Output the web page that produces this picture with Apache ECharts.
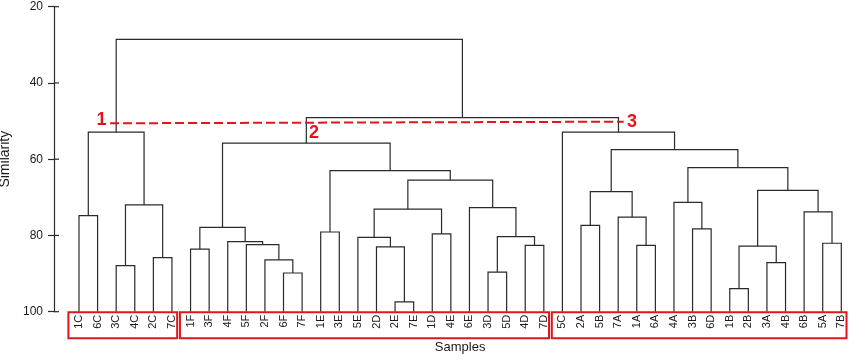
<!DOCTYPE html>
<html><head><meta charset="utf-8">
<script src="https://cdn.jsdelivr.net/npm/echarts@6/dist/echarts.min.js"></script>
<style>html,body{margin:0;padding:0;background:#fff}#c{width:850px;height:356px}</style>
</head><body><div id="c"></div>
<script>
// ---- DATA ----
const leaves = ['1C','6C','3C','4C','2C','7C','1F','3F','4F','5F','2F','6F','7F','1E','3E','5E','2D','2E','7E','1D','4E','6E','3D','5D','4D','7D','5C','2A','5B','7A','1A','6A','4A','3B','6D','1B','2B','3A','4B','6B','5A','7B'];
// children of each merge: leaf index (0..41) or 42+k for the k-th merge
const mergeChildren = [
  [0,1],[2,3],[4,5],[43,44],[42,45],
  [6,7],[11,12],[10,48],[9,49],[8,50],[47,51],
  [13,14],[17,18],[16,54],[15,55],[19,20],[56,57],[22,23],[24,25],[59,60],[21,61],[58,62],[53,63],[52,64],
  [27,28],[30,31],[29,67],[66,68],[33,34],[32,70],[35,36],[37,38],[72,73],[40,41],[39,75],[74,76],[71,77],[69,78],[26,79],
  [65,80],[46,81]
];
const mergeSimilarity = [
  74.8,87.9,85.8,72.0,52.9,
  83.6,89.85,86.4,82.4,81.6,77.9,
  79.1,97.4,83.0,80.5,79.6,73.1,89.6,82.6,80.3,72.7,65.5,63.0,55.8,
  77.35,82.6,75.2,68.5,78.3,71.3,93.95,87.15,82.8,82.05,73.8,68.2,62.2,57.5,52.9,
  49.1,28.55
];
const groupFirstLeaf = [0, 6, 26];
const groupLastLeaf = [5, 25, 41];
const yTicks = {min: 20, max: 100, step: 20};
const yTickValues = [20, 40, 60, 80, 100];
const cutLine = [[1.67, 50.58, 29.3, 50.16]];
const cutLabels = [[1.21, 49.6, '1'], [12.64, 53.26, '2'], [29.74, 50.24, '3']];

// ---- BUILD ----
const nLeaf = leaves.length;
const nodeX = leaves.map((_, i) => i);
const nodeH = leaves.map(() => yTicks.max);
const linkData = mergeChildren.map((c, k) => {
  const l = c[0], r = c[1];
  nodeX[nLeaf + k] = (nodeX[l] + nodeX[r]) / 2;
  nodeH[nLeaf + k] = mergeSimilarity[k];
  return [nodeX[l], nodeX[r], nodeH[l], nodeH[r], mergeSimilarity[k]];
});
const FONT = '"Liberation Sans", Arial, sans-serif';
const RED = '#e3141c';
const INK = '#2a2a2a';
const AXIS_OFFSET = 15.7;

const chart = echarts.init(document.getElementById('c'), null, {renderer: 'canvas'});
chart.setOption({
  animation: false,
  backgroundColor: '#fff',
  textStyle: {fontFamily: FONT},
  grid: {left: 69.7, width: 780.9, top: 6.7, bottom: 44.3, containLabel: false, outerBoundsMode: 'none'},
  xAxis: [
    {type: 'value', min: -0.5, max: nLeaf - 0.5, show: false, position: 'bottom', axisLine: {onZero: false}},
    {type: 'category', data: leaves, position: 'bottom', boundaryGap: true,
     axisLine: {show: false, onZero: false}, axisTick: {show: false},
     axisLabel: {rotate: 90, margin: 3, fontSize: 11, color: '#1a1a1a', interval: 0, fontFamily: FONT, padding: [0, 0, 8, 0]},
     name: 'Samples', nameLocation: 'middle', nameGap: 29,
     nameTextStyle: {fontSize: 13, color: '#1a1a1a', fontFamily: FONT}}
  ],
  yAxis: [
    {type: 'value', inverse: true, min: yTicks.min, max: yTicks.max, interval: yTicks.step, position: 'left', offset: AXIS_OFFSET,
     axisLine: {show: true, onZero: false, lineStyle: {color: INK, width: 1.2}},
     axisTick: {show: true, length: 6, lineStyle: {color: INK, width: 1.2}},
     axisLabel: {margin: 11, fontSize: 12, color: '#1a1a1a', fontFamily: FONT},
     splitLine: {show: false},
     name: 'Similarity', nameLocation: 'middle', nameGap: 37,
     nameTextStyle: {fontSize: 14, color: '#1a1a1a', fontFamily: FONT}}
  ],
  series: [
    {type: 'custom', xAxisIndex: 0, yAxisIndex: 0, data: linkData, clip: false,
     renderItem: function (params, api) {
       const a = api.coord([api.value(0), api.value(2)]);
       const b = api.coord([api.value(0), api.value(4)]);
       const c = api.coord([api.value(1), api.value(4)]);
       const d = api.coord([api.value(1), api.value(3)]);
       return {type: 'polyline', shape: {points: [a, b, c, d]},
               style: {stroke: INK, lineWidth: 1.2, fill: null}};
     }},
    // inner half of the y-axis ticks (ticks cross the axis line)
    {type: 'custom', xAxisIndex: 0, yAxisIndex: 0, clip: false, data: yTickValues,
     renderItem: function (params, api) {
       const p = api.coord([-0.5, api.value(0)]);
       const x = p[0] - AXIS_OFFSET;
       return {type: 'line', shape: {x1: x, y1: p[1], x2: x + 5, y2: p[1]},
               style: {stroke: INK, lineWidth: 1.2}};
     }},
    {type: 'custom', xAxisIndex: 0, yAxisIndex: 0, clip: false,
     data: groupFirstLeaf.map((s, i) => [s, groupLastLeaf[i]]),
     renderItem: function (params, api) {
       const p1 = api.coord([api.value(0), yTicks.max]);
       const p2 = api.coord([api.value(1), yTicks.max]);
       const x0 = p1[0] - 10.6, x1 = p2[0] + 5.2;
       return {type: 'rect', shape: {x: x0, y: p1[1] + 0.6, width: x1 - x0, height: 26},
               style: {stroke: RED, lineWidth: 2, fill: null}};
     }},
    {type: 'custom', xAxisIndex: 0, yAxisIndex: 0, clip: false, data: cutLine,
     renderItem: function (params, api) {
       const a = api.coord([api.value(0), api.value(1)]);
       const b = api.coord([api.value(2), api.value(3)]);
       return {type: 'line', shape: {x1: a[0], y1: a[1], x2: b[0], y2: b[1]},
               style: {stroke: RED, lineWidth: 2, lineDash: [9, 4]}};
     }},
    {type: 'custom', xAxisIndex: 0, yAxisIndex: 0, clip: false, data: cutLabels,
     renderItem: function (params, api) {
       const p = api.coord([api.value(0), api.value(1)]);
       return {type: 'text', x: p[0], y: p[1],
               style: {text: cutLabels[params.dataIndex][2], fill: RED, font: 'bold 18px ' + FONT,
                       textAlign: 'center', textVerticalAlign: 'middle'}};
     }}
  ]
});
</script></body></html>
